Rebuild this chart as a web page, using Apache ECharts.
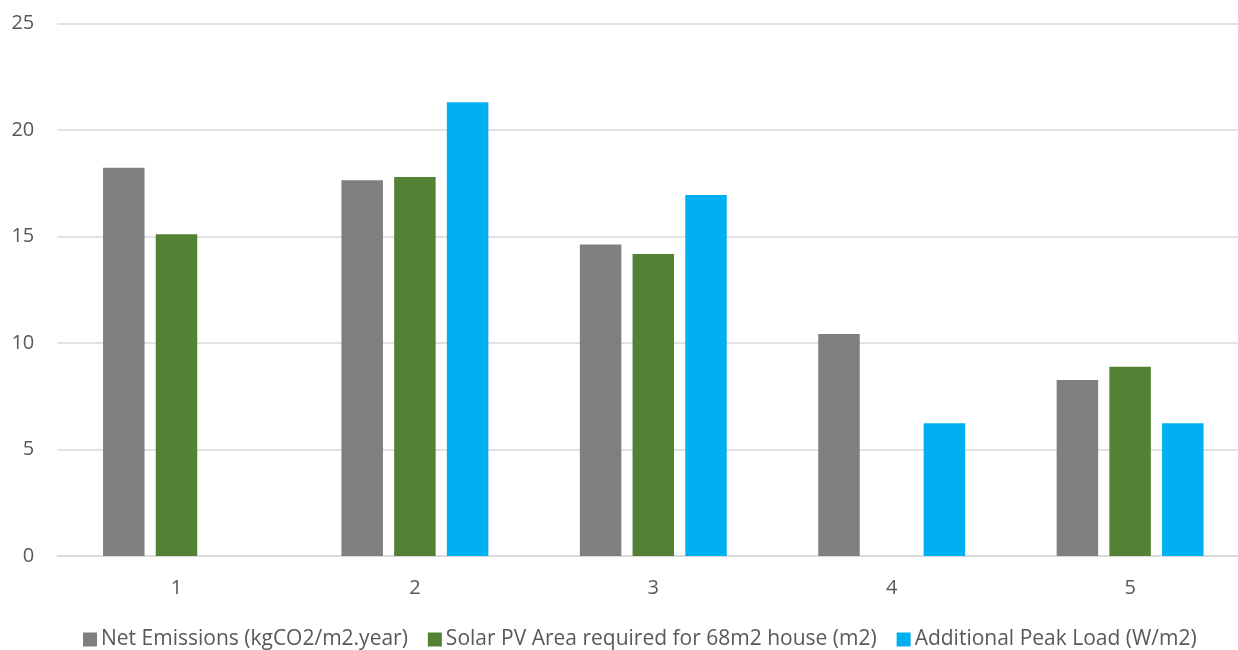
<!DOCTYPE html>
<html>
<head>
<meta charset="utf-8">
<script src="https://cdn.jsdelivr.net/npm/echarts@6/dist/echarts.min.js"></script>
<style>
html,body{margin:0;padding:0;background:#fff;overflow:hidden;width:1238px;height:650px;}
#chart{width:1250px;height:650px;}
</style>
</head>
<body>
<div id="chart"></div>
<script>
const categories = ['1', '2', '3', '4', '5'];
const netEmissions = [18.23, 17.64, 14.63, 10.42, 8.26];
const solarPVArea = [15.1, 17.79, 14.18, null, 8.89];
const peakLoad = [null, 21.3, 16.95, 6.23, 6.23];
const seriesNames = ['Net Emissions (kgCO2/m2.year)', 'Solar PV Area required for 68m2 house (m2)', 'Additional Peak Load (W/m2)'];
const colors = ['#7f7f7f', '#548235', '#00b0f0'];

const chart = echarts.init(document.getElementById('chart'));
const FONT = 'Open Sans';
const mk = (i, data) => ({
  name: seriesNames[i],
  type: 'bar',
  data: data,
  barWidth: 41.5,
  barGap: '27%',
  itemStyle: { color: colors[i] },
  emphasis: { disabled: true }
});
chart.setOption({
  animation: false,
  textStyle: { fontFamily: FONT },
  grid: { left: 57.3, right: 0.7, top: 23.5, bottom: 94, containLabel: false },
  legend: {
    top: 624,
    left: 78,
    itemWidth: 14,
    itemHeight: 14,
    itemGap: 20,
    icon: 'rect',
    textStyle: { fontSize: 21, color: '#595959', fontFamily: FONT, padding: [0, 0, 0, -1] },
    data: seriesNames
  },
  xAxis: {
    type: 'category',
    data: categories,
    axisLine: { lineStyle: { color: '#d9d9d9', width: 1.5 } },
    axisTick: { show: false },
    axisLabel: { fontSize: 20, color: '#595959', margin: 22 }
  },
  yAxis: {
    type: 'value',
    min: 0,
    max: 25,
    interval: 5,
    axisLine: { show: false },
    axisTick: { show: false },
    splitLine: { lineStyle: { color: '#d9d9d9', width: 1.5 } },
    axisLabel: { fontSize: 20, color: '#595959', margin: 23 }
  },
  series: [mk(0, netEmissions), mk(1, solarPVArea), mk(2, peakLoad)]
});
</script>
</body>
</html>
